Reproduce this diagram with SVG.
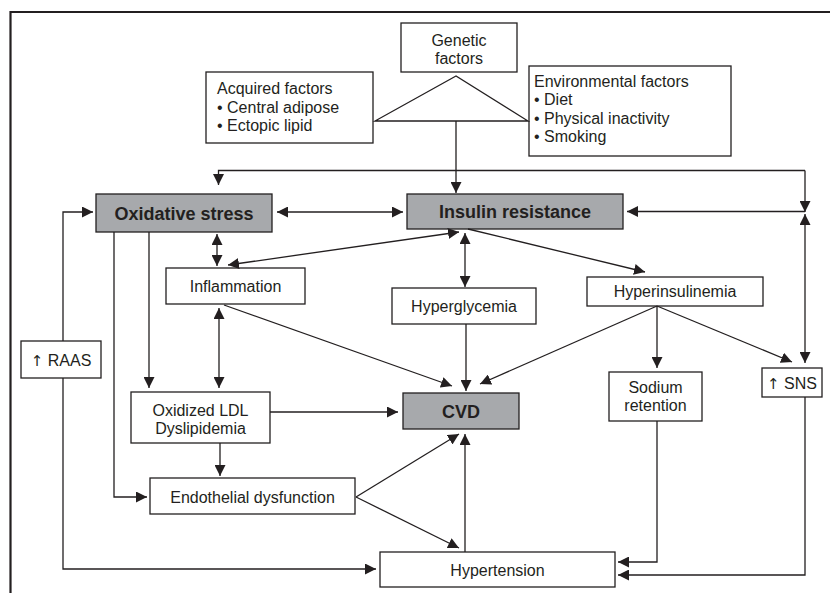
<svg xmlns="http://www.w3.org/2000/svg" width="830" height="593" viewBox="0 0 830 593">
<defs>
<marker id="ah" viewBox="0 0 11 11" refX="11" refY="5.5" markerWidth="11" markerHeight="11" markerUnits="userSpaceOnUse" orient="auto-start-reverse">
<path d="M0,0 L11,5.5 L0,11 z" fill="#231f20"/>
</marker>
<style>
.bx{fill:#fff;stroke:#231f20;stroke-width:1.3}
.gb{fill:#a7a9ac;stroke:#231f20;stroke-width:1.3}
.t{font-family:"Liberation Sans",Arial,Helvetica,sans-serif;font-size:16px;fill:#231f20}
.c{text-anchor:middle}
.b{font-weight:bold;font-size:18px}
.up{font-family:"DejaVu Sans",sans-serif;font-size:15px}
.ln{fill:none;stroke:#231f20;stroke-width:1.3}
.a{marker-end:url(#ah)}
.d{marker-start:url(#ah);marker-end:url(#ah)}
</style>
</defs>
<rect width="830" height="593" fill="#fff"/>
<path d="M10.5,593 V12 H830" fill="none" stroke="#231f20" stroke-width="2.2"/>

<g id="genetic">
<rect class="bx" x="401" y="23" width="116" height="49"/>
<text class="t c" x="459" y="45.5">Genetic</text>
<text class="t c" x="459" y="64">factors</text>
</g>
<g id="acquired">
<rect class="bx" x="206" y="72" width="167" height="71"/>
<text class="t" x="217" y="94">Acquired factors</text>
<text class="t" x="217" y="112.5">• Central adipose</text>
<text class="t" x="217" y="130.5">• Ectopic lipid</text>
</g>
<g id="environmental">
<rect class="bx" x="529" y="66" width="202" height="90"/>
<text class="t" x="534" y="87">Environmental factors</text>
<text class="t" x="534" y="105">• Diet</text>
<text class="t" x="534" y="123.5">• Physical inactivity</text>
<text class="t" x="534" y="142">• Smoking</text>
</g>
<g id="oxidative">
<rect class="gb" x="96" y="194" width="176" height="38"/>
<text class="t c b" x="184" y="219.5">Oxidative stress</text>
</g>
<g id="insulin">
<rect class="gb" x="407" y="194" width="216" height="35"/>
<text class="t c b" x="515" y="218">Insulin resistance</text>
</g>
<g id="inflammation">
<rect class="bx" x="166" y="268" width="139" height="36"/>
<text class="t c" x="235.5" y="292">Inflammation</text>
</g>
<g id="hyperglycemia">
<rect class="bx" x="392" y="288" width="144" height="36"/>
<text class="t c" x="464" y="312">Hyperglycemia</text>
</g>
<g id="hyperinsulinemia">
<rect class="bx" x="587" y="277" width="176" height="29"/>
<text class="t c" x="675" y="297">Hyperinsulinemia</text>
</g>
<g id="raas">
<rect class="bx" x="21" y="341" width="80" height="37"/>
<text class="t c" x="61" y="365.5"><tspan class="up">↑</tspan> RAAS</text>
</g>
<g id="sns">
<rect class="bx" x="762" y="368" width="60" height="29"/>
<text class="t c" x="792" y="388.5"><tspan class="up">↑</tspan> SNS</text>
</g>
<g id="sodium">
<rect class="bx" x="609" y="372" width="93" height="49"/>
<text class="t c" x="655.5" y="393">Sodium</text>
<text class="t c" x="655.5" y="411">retention</text>
</g>
<g id="cvd">
<rect class="gb" x="403" y="393" width="116" height="36"/>
<text class="t c b" x="461" y="417.5">CVD</text>
</g>
<g id="oxldl">
<rect class="bx" x="131" y="392" width="139" height="51"/>
<text class="t c" x="200.5" y="416">Oxidized LDL</text>
<text class="t c" x="200.5" y="434">Dyslipidemia</text>
</g>
<g id="endothelial">
<rect class="bx" x="150" y="478" width="205" height="36"/>
<text class="t c" x="252.5" y="502.5">Endothelial dysfunction</text>
</g>
<g id="hypertension">
<rect class="bx" x="380" y="552" width="235" height="35"/>
<text class="t c" x="497.5" y="575.5">Hypertension</text>
</g>

<g id="connectors">
<path class="ln" d="M456,76 L375,121 H528 Z"/>
<path class="ln a" d="M456,121 V193"/>
<path class="ln a" d="M805,170.5 H218.5 V185"/>
<path class="ln a" d="M805,170.5 V212"/>
<path class="ln a" d="M805,211.5 H627"/>
<path class="ln d" d="M805,214 V363"/>
<path class="ln d" d="M277,212 H403"/>
<path class="ln d" d="M217,234 V266"/>
<path class="ln d" d="M228,265 L459,232"/>
<path class="ln d" d="M465,233 V287"/>
<path class="ln a" d="M468,229 L645,272"/>
<path class="ln a" d="M657,306 L480,384"/>
<path class="ln a" d="M657,306 V368"/>
<path class="ln a" d="M657,306 L792,362"/>
<path class="ln a" d="M466,324 V391"/>
<path class="ln a" d="M224,305 L452,386"/>
<path class="ln d" d="M219,308 V388"/>
<path class="ln a" d="M63,341 V212 H93"/>
<path class="ln a" d="M63,378 V569 H376"/>
<path class="ln a" d="M114,232 V497 H147"/>
<path class="ln a" d="M149,232 V388"/>
<path class="ln a" d="M270,412 H398"/>
<path class="ln a" d="M220,443 V476"/>
<path class="ln a" d="M356,497 L459,434"/>
<path class="ln a" d="M356,497 L459,548"/>
<path class="ln a" d="M465,552 V434"/>
<path class="ln a" d="M657,421 V562 H618"/>
<path class="ln a" d="M805,397 V575 H618"/>
</g>
</svg>
